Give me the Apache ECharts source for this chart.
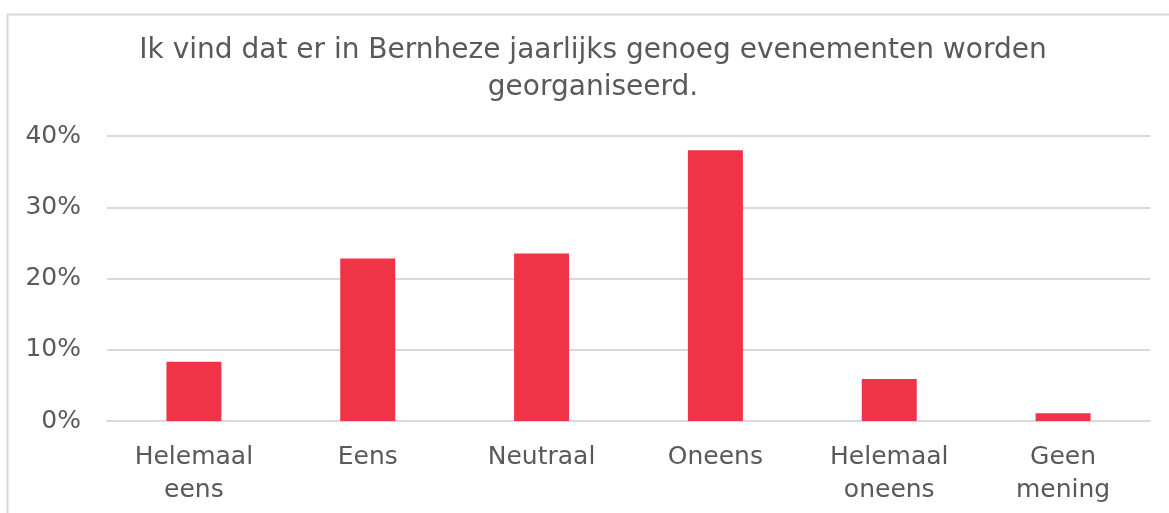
<!DOCTYPE html>
<html>
<head>
<meta charset="utf-8">
<script src="https://cdn.jsdelivr.net/npm/echarts@6/dist/echarts.min.js"></script>
<style>
html,body{margin:0;padding:0;background:#fff;}
#c{width:1169px;height:513px;}
</style>
</head>
<body>
<div id="c"></div>
<script>
const titleLines = ['Ik vind dat er in Bernheze jaarlijks genoeg evenementen worden', 'georganiseerd.'];
const categories = ['Helemaal\neens', 'Eens', 'Neutraal', 'Oneens', 'Helemaal\noneens', 'Geen\nmening'];
const values = [8.3, 22.8, 23.5, 38.0, 5.9, 1.1];
const yTicks = [0, 10, 20, 30, 40];

const FONT = 'DejaVu Sans';
const chart = echarts.init(document.getElementById('c'));
chart.setOption({
  animation: false,
  graphic: [
    { type: 'rect', shape: { x: 7.5, y: 14.5, width: 1200, height: 600 }, style: { fill: 'none', stroke: '#d9d9d9', lineWidth: 2 }, silent: true },
    { type: 'text', x: 593, y: 51, style: { text: titleLines[0], textAlign: 'center', textVerticalAlign: 'middle', font: '28px "' + FONT + '"', fill: '#595959' } },
    { type: 'text', x: 593, y: 88, style: { text: titleLines[1], textAlign: 'center', textVerticalAlign: 'middle', font: '28px "' + FONT + '"', fill: '#595959' } }
  ],
  grid: { left: 107, right: 19, top: 136, bottom: 92, containLabel: false },
  xAxis: {
    type: 'category',
    data: categories,
    axisLine: { show: true, lineStyle: { color: '#d9d9d9', width: 2 } },
    axisTick: { show: false },
    axisLabel: { color: '#595959', fontFamily: FONT, fontSize: 25, lineHeight: 33, margin: 20, interval: 0 }
  },
  yAxis: {
    type: 'value',
    min: yTicks[0],
    max: yTicks[yTicks.length - 1],
    interval: 10,
    axisLine: { show: false },
    axisTick: { show: false },
    splitLine: { lineStyle: { color: '#d9d9d9', width: 2 } },
    axisLabel: { color: '#595959', fontFamily: FONT, fontSize: 25, margin: 26, formatter: v => v + '%' }
  },
  series: [{
    type: 'bar',
    data: values,
    barWidth: 55,
    itemStyle: { color: '#ee3446' }
  }]
});
</script>
</body>
</html>
